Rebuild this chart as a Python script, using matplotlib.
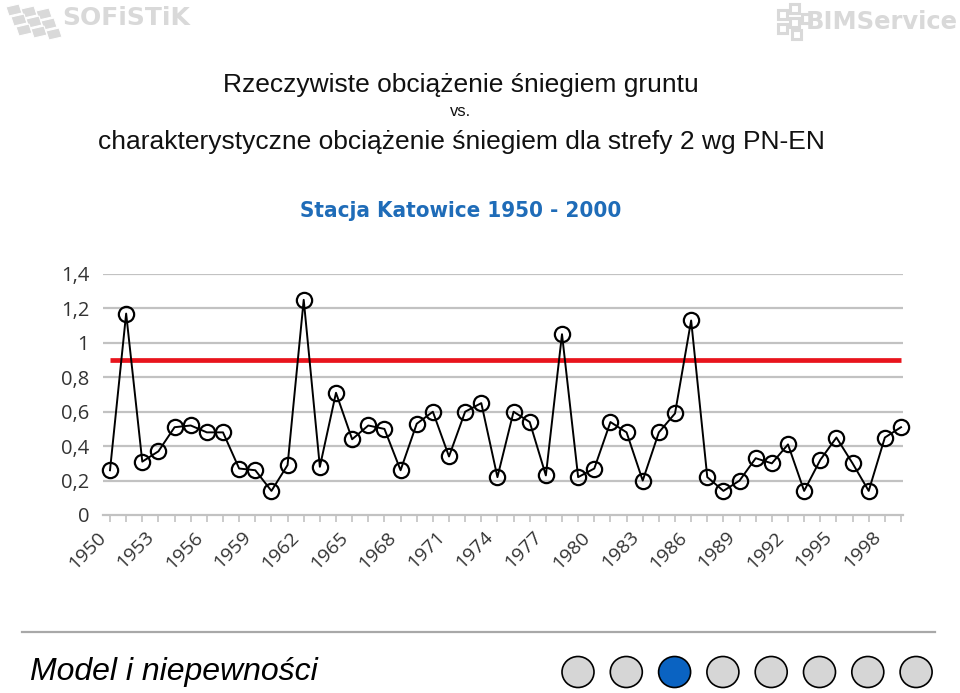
import matplotlib
matplotlib.use("Agg")
import matplotlib.pyplot as plt
import matplotlib.transforms as mtransforms
from matplotlib.patches import Ellipse, Polygon
from matplotlib.lines import Line2D

# ---- data ----
years = list(range(1950, 2000))
snow_load = [0.26, 1.17, 0.31, 0.37, 0.51, 0.52, 0.48, 0.48, 0.27, 0.26,
             0.14, 0.29, 1.25, 0.28, 0.71, 0.44, 0.52, 0.50, 0.26, 0.53,
             0.60, 0.34, 0.60, 0.65, 0.22, 0.60, 0.54, 0.23, 1.05, 0.22,
             0.27, 0.54, 0.48, 0.20, 0.48, 0.59, 1.13, 0.22, 0.14, 0.20,
             0.33, 0.30, 0.41, 0.14, 0.32, 0.45, 0.30, 0.14, 0.45, 0.51]
char_value = 0.9
y_ticks = [0, 0.2, 0.4, 0.6, 0.8, 1.0, 1.2, 1.4]
y_tick_labels = ["0", "0,2", "0,4", "0,6", "0,8", "1", "1,2", "1,4"]
x_label_years = list(range(1950, 2000, 3))

title_line1 = "Rzeczywiste obciążenie śniegiem gruntu"
title_vs = "vs."
title_line2 = "charakterystyczne obciążenie śniegiem dla strefy 2 wg PN-EN"
subtitle = "Stacja Katowice 1950 - 2000"
footer = "Model i niepewności"
n_dots = 8
active_dot = 2

W, H = 960, 693
fig = plt.figure(figsize=(W / 100, H / 100), dpi=100)
fig.patch.set_facecolor("white")

def fx(px):
    return px / W

def fy(py):
    return 1 - py / H

# ---- axes ----
ax_left, ax_right = 103, 903
ax_top, ax_bottom = 274, 515
ax = fig.add_axes([fx(ax_left), fy(ax_bottom), fx(ax_right - ax_left), (ax_bottom - ax_top) / H])
px_per_year = (901 - 110) / 49
ax.set_xlim(1950 - (110 - ax_left) / px_per_year, 1999 + (ax_right - 901) / px_per_year)
ax.set_ylim(0, 1.4)

grid_col = "#c2c2c2"
for yv in y_ticks[1:]:
    ax.axhline(yv, color=grid_col, lw=1.6, zorder=1)

ax.plot(years, [char_value] * len(years), color="#e8141c", lw=3.4, zorder=2,
        solid_capstyle="butt")
ax.plot(years, snow_load, color="black", lw=1.4, marker="o", ms=11,
        mfc="none", mec="black", mew=1.6, zorder=3, clip_on=False)

for s in ["top", "right", "left"]:
    ax.spines[s].set_visible(False)
ax.spines["bottom"].set_color(grid_col)
ax.spines["bottom"].set_linewidth(1.6)

ax.set_yticks(y_ticks)
ax.set_yticklabels(y_tick_labels, fontsize=14.5, color="#333333", family="Open Sans")
ax.tick_params(axis="y", length=0, pad=10)

ax.set_xticks(years)
ax.set_xticklabels([str(y) if y in x_label_years else "" for y in years],
                   fontsize=14, color="#333333", family="Open Sans",
                   rotation=45, ha="right", va="center", rotation_mode="anchor")
ax.tick_params(axis="x", length=5, width=1.2, color=grid_col, pad=9)
shift = mtransforms.ScaledTranslation(-7 / 100, 0, fig.dpi_scale_trans)
for lbl in ax.get_xticklabels():
    lbl.set_transform(lbl.get_transform() + shift)

# ---- titles ----
fig.text(fx(461), fy(85), title_line1, ha="center", va="center", fontsize=19,
         family="Liberation Sans", color="#111111")
fig.text(fx(460), fy(112), title_vs, ha="center", va="center", fontsize=12,
         family="Liberation Sans", color="#111111")
fig.text(fx(461), fy(142), title_line2, ha="center", va="center", fontsize=19,
         family="Liberation Sans", color="#111111")
fig.text(fx(461), fy(211), subtitle, ha="center", va="center", fontsize=16,
         family="DejaVu Sans", stretch="condensed", weight="bold", color="#1f6cb8")

# ---- logos (light grey watermark style) ----
logo_col = "#d9d9d9"
fig.text(fx(62), fy(18), "SOFiSTiK", ha="left", va="center", fontsize=18,
         family="DejaVu Sans", weight="bold", color=logo_col)
for i in range(3):
    for j in range(3):
        x0 = 6 + j * 15 + i * 5
        y0 = 7 + i * 10 + j * 2
        pts = [(x0, y0), (x0 + 13, y0 - 3), (x0 + 16, y0 + 6), (x0 + 3, y0 + 9)]
        fig.patches.append(Polygon([(fx(a), fy(b)) for a, b in pts], closed=True,
                                   transform=fig.transFigure, fc=logo_col, ec="white", lw=0.8))
fig.text(fx(806), fy(22), "BIMService", ha="left", va="center", fontsize=17.5,
         family="DejaVu Sans", weight="bold", color=logo_col)
for (a, b) in [(778, 10), (790, 4), (790, 18), (778, 24), (792, 30), (802, 14)]:
    pts = [(a, b), (a + 9, b), (a + 9, b + 9), (a, b + 9)]
    fig.patches.append(Polygon([(fx(p), fy(q)) for p, q in pts], closed=True,
                               transform=fig.transFigure, fc="none", ec=logo_col, lw=2.2))

# ---- footer ----
fig.lines.append(Line2D([fx(22), fx(935)], [fy(632), fy(632)], transform=fig.transFigure,
                        color="#a8a8a8", lw=1.6))
fig.text(fx(30), fy(672), footer, ha="left", va="center", fontsize=23, style="italic",
         family="Liberation Sans", color="black")
for k in range(n_dots):
    cx = 578 + k * 48.3
    fc = "#0a63c2" if k == active_dot else "#d6d6d6"
    fig.patches.append(Ellipse((fx(cx), fy(672)), fx(32), 31 / H, transform=fig.transFigure,
                               fc=fc, ec="black", lw=1.2))

fig.savefig("out.png", dpi=100)
